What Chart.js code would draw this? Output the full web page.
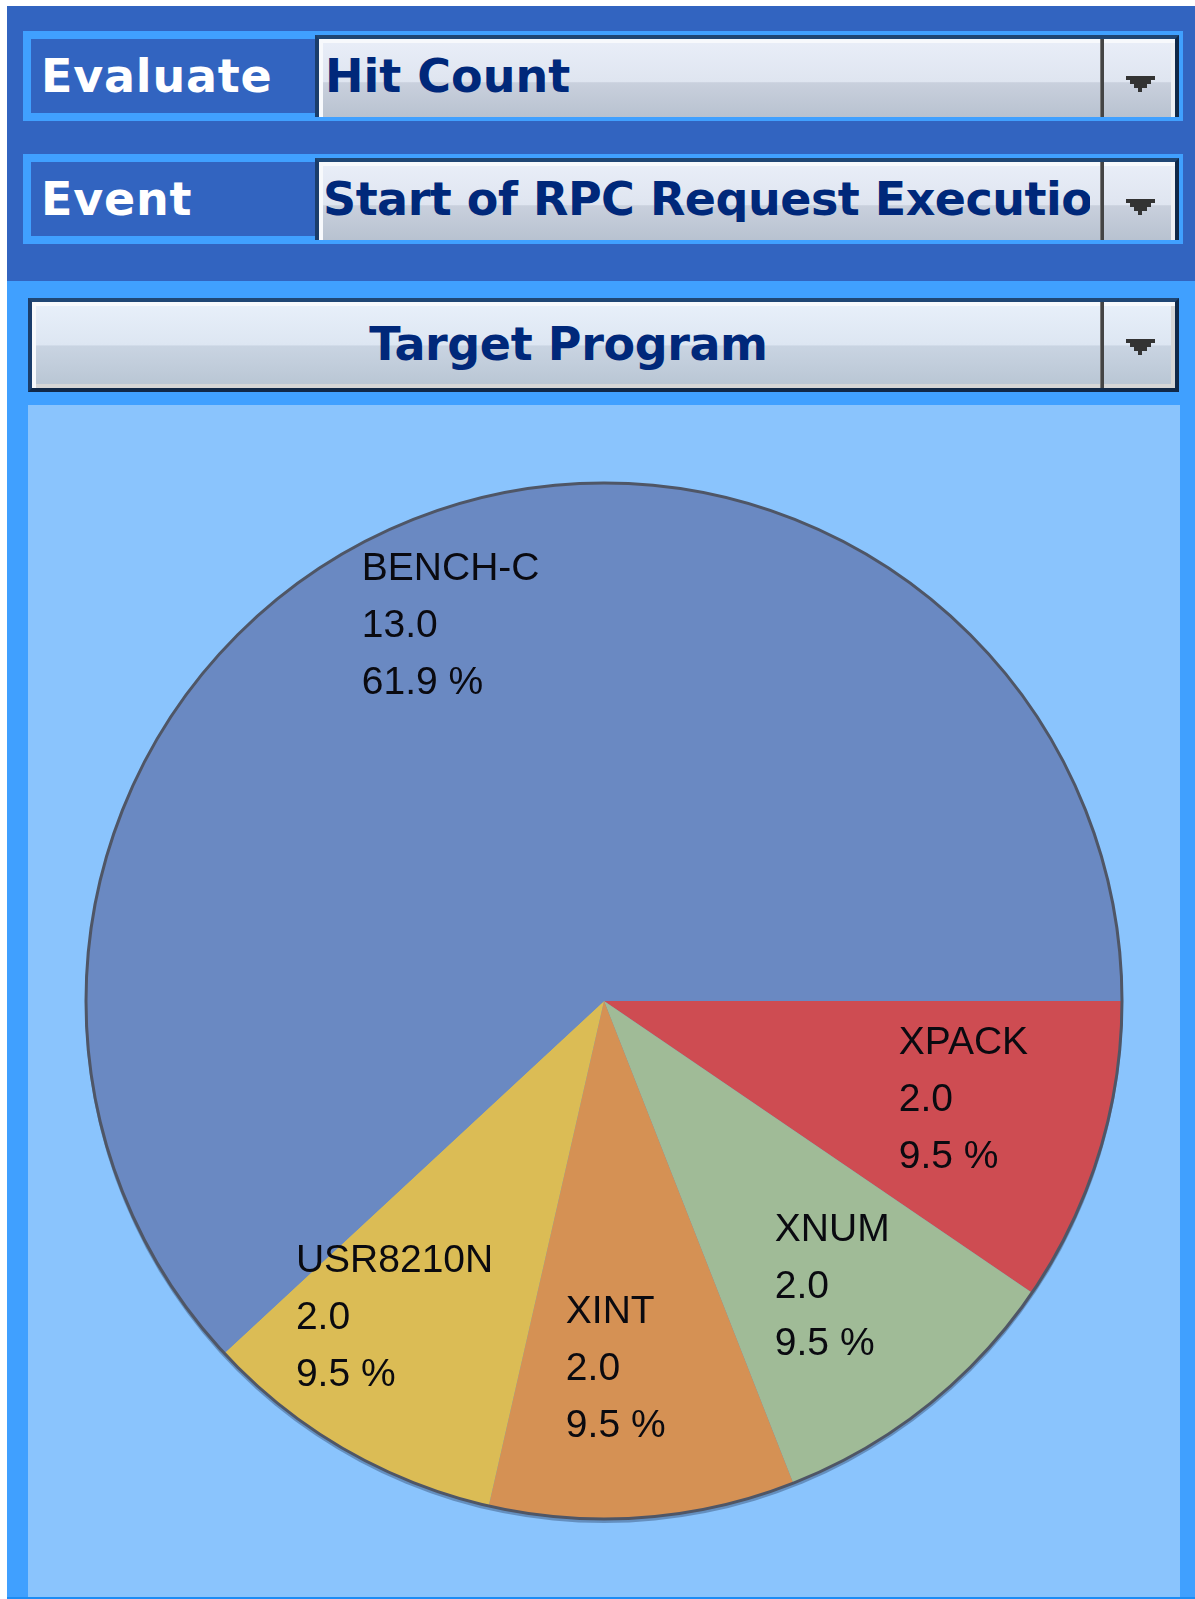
<!DOCTYPE html>
<html>
<head>
<meta charset="utf-8">
<title>Target Program – Hit Count</title>
<script src="https://cdn.jsdelivr.net/npm/chart.js@4/dist/chart.umd.min.js"></script>
<style>
  html, body { margin: 0; padding: 0; background: #ffffff; }
  body { width: 1195px; height: 1599px; position: relative; overflow: hidden; font-family: "DejaVu Sans", sans-serif; }
  .abs { position: absolute; box-sizing: border-box; }
  #topBar { left: 7px; top: 6px; width: 1188px; height: 275px; background: #3264c0; }
  #lowerBar { left: 7px; top: 281px; width: 1188px; height: 1318px; background: #40a0ff; border-bottom: 2px solid #1c8cf4; }
  .rowBox { left: 23px; width: 1160px; height: 90px; background: #40a0ff; }
  .rowLabel { left: 31px; width: 284px; height: 74px; background: #3264c0; }
  .labelText { position: absolute; left: 41px; font: bold 46px/46px "DejaVu Sans", sans-serif; letter-spacing: 0.8px; color: #ffffff; white-space: nowrap; }
  .combo {
    border-style: solid; border-width: 4px 4px 0 4px;
    border-color: #1f4674 #102848 #102848 #1a3d6b;
    background: linear-gradient(to bottom, #e9eef8 0%, #dfe5f0 55%, #c9d0dd 56%, #b8c2d0 100%);
    box-shadow: inset 4px 4px 0 #f7f9fc, inset -4px 0 0 #eef0f4;
    overflow: hidden;
  }
  .combo.closed { border-bottom-width: 4px; box-shadow: inset 4px 4px 0 #f7f9fc, inset -4px -4px 0 #d6d6d6;
    background: linear-gradient(to bottom, #e8f0fa 0%, #dde6f2 50%, #c9d4e2 51%, #b8c5d3 100%); }
  .comboText { position: absolute; font: bold 46px/46px "DejaVu Sans", sans-serif; color: #00287a; white-space: nowrap; }
  .sep { width: 4px; background: #444444; border-left: 1px solid #7a7a7a; }
  .arrow { width: 29px; height: 16px; background: #333333;
    clip-path: polygon(0 0, 29px 0, 29px 4px, 25px 4px, 25px 8px, 21px 8px, 21px 12px, 16px 12px, 16px 16px, 12px 16px, 12px 12px, 8px 12px, 8px 8px, 4px 8px, 4px 4px, 0 4px); }
  #panel { left: 28px; top: 405px; width: 1152px; height: 1192px; background: #8ac4fd; }
  #panel canvas { display: block; }
</style>
</head>
<body>
  <div class="abs" id="topBar"></div>
  <div class="abs" id="lowerBar"></div>

  <!-- Evaluate selector -->
  <div class="abs rowBox" style="top:31px"></div>
  <div class="abs rowLabel" style="top:39px"></div>
  <div class="labelText" style="top:53px">Evaluate</div>
  <div class="abs combo" style="left:315px; top:35px; width:864px; height:82px;">
    <div class="comboText" style="left:6px; top:14px; width:776px; overflow:hidden;">Hit Count</div>
  </div>
  <div class="abs sep" style="left:1100px; top:39px; height:78px;"></div>
  <div class="abs arrow" style="left:1126px; top:76px;"></div>

  <!-- Event selector -->
  <div class="abs rowBox" style="top:154px"></div>
  <div class="abs rowLabel" style="top:162px"></div>
  <div class="labelText" style="top:176px">Event</div>
  <div class="abs combo" style="left:315px; top:158px; width:864px; height:82px;">
    <div class="comboText" style="left:4px; top:14px; width:767px; overflow:hidden; letter-spacing:-0.5px;">Start of RPC Request Execution</div>
  </div>
  <div class="abs sep" style="left:1100px; top:162px; height:78px;"></div>
  <div class="abs arrow" style="left:1126px; top:199px;"></div>

  <!-- Group-by selector -->
  <div class="abs combo closed" style="left:28px; top:298px; width:1151px; height:94px;">
    <div class="comboText" style="left:0; top:19px; width:1073px; text-align:center; letter-spacing:-0.4px;">Target Program</div>
  </div>
  <div class="abs sep" style="left:1100px; top:302px; height:86px;"></div>
  <div class="abs arrow" style="left:1126px; top:339px;"></div>

  <div class="abs" id="panel"><canvas id="pie"></canvas></div>

<script>
// Hit counts per target program, listed clockwise from the 3 o'clock position
const categories = ['XPACK', 'XNUM', 'XINT', 'USR8210N', 'BENCH-C'];
const hitCounts = [2.0, 2.0, 2.0, 2.0, 13.0];

// Thin dark rim round the whole pie (no borders between the slices)
const pieRim = {
  id: 'pieRim',
  beforeDatasetsDraw(chart, args, opts) {
    const arc = chart.getDatasetMeta(0).data[0];
    if (!arc) return;
    const { x, y, outerRadius } = arc.getProps(['x', 'y', 'outerRadius'], true);
    const ctx = chart.ctx;
    ctx.save();
    ctx.beginPath();
    ctx.arc(x, y + opts.shadowOffset, outerRadius + 1, 0, Math.PI * 2);
    ctx.fillStyle = opts.shadowColor;
    ctx.fill();
    ctx.restore();
  },
  afterDatasetsDraw(chart, args, opts) {
    const arc = chart.getDatasetMeta(0).data[0];
    if (!arc) return;
    const { x, y, outerRadius } = arc.getProps(['x', 'y', 'outerRadius'], true);
    const ctx = chart.ctx;
    ctx.save();
    ctx.beginPath();
    ctx.arc(x, y, outerRadius, 0, Math.PI * 2);
    ctx.lineWidth = opts.width;
    ctx.strokeStyle = opts.color;
    ctx.stroke();
    ctx.restore();
  }
};

// Three-line label inside each slice: name, value, share of the total
const sliceLabels = {
  id: 'sliceLabels',
  afterDatasetsDraw(chart, args, opts) {
    const ds = chart.data.datasets[0];
    const total = ds.data.reduce((a, b) => a + b, 0);
    const ctx = chart.ctx;
    ctx.save();
    ctx.font = opts.font;
    ctx.fillStyle = opts.color;
    ctx.textAlign = 'left';
    ctx.textBaseline = 'alphabetic';
    chart.getDatasetMeta(0).data.forEach((el, i) => {
      const { x, y, startAngle, endAngle, outerRadius } =
        el.getProps(['x', 'y', 'startAngle', 'endAngle', 'outerRadius'], true);
      const value = ds.data[i];
      const share = value / total;
      const mid = (startAngle + endAngle) / 2;
      const frac = share > 0.5 ? opts.largeRadius : opts.radius;
      const [dx, dy] = opts.nudge[i] || [0, 0];
      const cx = x + Math.cos(mid) * outerRadius * frac + dx;
      const cy = y + Math.sin(mid) * outerRadius * frac + dy;
      const lines = [chart.data.labels[i], value.toFixed(1), (share * 100).toFixed(1) + ' %'];
      const w = Math.max(...lines.map(s => ctx.measureText(s).width));
      const left = cx - w / 2;
      const firstBaseline = cy - (2 * opts.lineHeight - opts.capHeight) / 2;
      lines.forEach((s, k) => ctx.fillText(s, left, firstBaseline + k * opts.lineHeight));
    });
    ctx.restore();
  }
};

new Chart(document.getElementById('pie'), {
  type: 'pie',
  data: {
    labels: categories,
    datasets: [{
      data: hitCounts,
      backgroundColor: ['#ce4c52', '#a0bb97', '#d59154', '#dbbc55', '#6a89c2'],
      borderWidth: 0,
      hoverOffset: 0,
      offset: 0
    }]
  },
  options: {
    responsive: true,
    maintainAspectRatio: false,
    devicePixelRatio: 1,
    animation: false,
    events: [],
    rotation: 90,
    layout: { padding: { left: 58, right: 58, top: 78, bottom: 78 } },
    plugins: {
      legend: { display: false },
      tooltip: { enabled: false },
      title: { display: false },
      pieRim: { width: 3, color: '#4f5666', shadowOffset: 3, shadowColor: 'rgba(70,100,140,0.55)' },
      sliceLabels: {
        font: '39px "Liberation Sans", Arial, sans-serif',
        color: '#0a0a10',
        lineHeight: 57,
        capHeight: 28,
        radius: 0.716,
        largeRadius: 0.784,
        // small per-slice label shifts, in pixels
        nudge: [[5, -13], [-3, -7], [-16, -5], [-24, -7], [-5, 0]]
      }
    }
  },
  plugins: [pieRim, sliceLabels]
});
</script>
</body>
</html>
